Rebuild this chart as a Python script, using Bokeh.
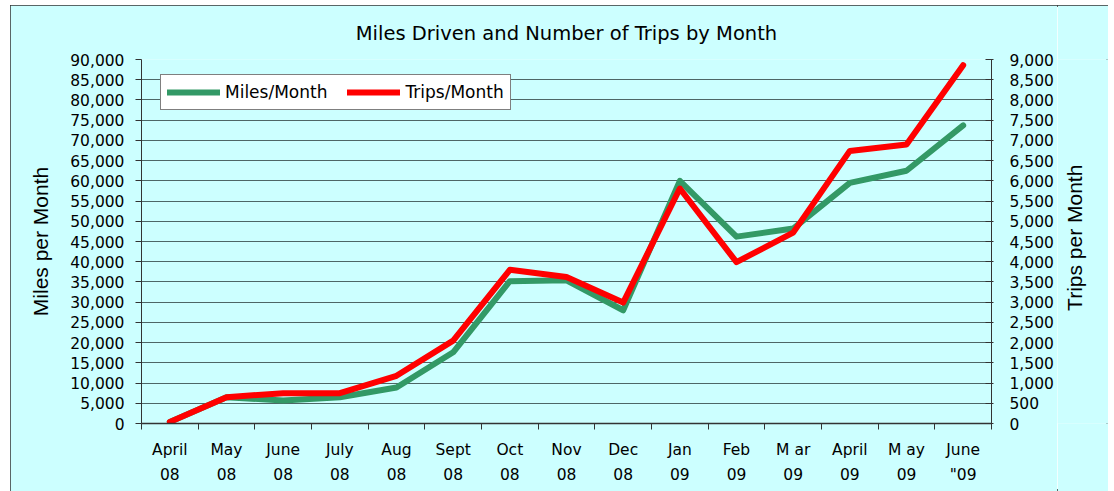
import math
from bokeh.plotting import figure
from bokeh.layouts import row
from bokeh.models import (Range1d, LinearAxis, FixedTicker, ColumnDataSource,
                          NumeralTickFormatter, Legend, LegendItem)
from bokeh.core.properties import value
from bokeh.embed import file_html
from bokeh.resources import INLINE

# ---- data ----
months = ["April", "May", "June", "July", "Aug", "Sept", "Oct", "Nov", "Dec",
          "Jan", "Feb", "M ar", "April", "M ay", "June"]
years = ["08", "08", "08", "08", "08", "08", "08", "08", "08",
         "09", "09", "09", "09", "09", '"09']
miles = [400, 6500, 5700, 6500, 8900, 17600, 35200, 35400, 28000,
         60000, 46200, 48200, 59500, 62500, 73700]
trips = [40, 650, 750, 750, 1180, 2050, 3800, 3620, 2990,
         5810, 3990, 4720, 6740, 6900, 8860]
miles_ticks = list(range(0, 90001, 5000))
trips_ticks = list(range(0, 9001, 500))

cat_labels = [f"{m}\n{y}" for m, y in zip(months, years)]
n = len(cat_labels)
pos = [i + 0.5 for i in range(n)]          # category centres on the x scale
src = ColumnDataSource(dict(x=pos, miles=miles, trips=trips, label=cat_labels))

BG = "#CCFFFF"
TICK_FONT = "DejaVu Sans"
FRAME_W, FRAME_H = 850, 364
TOP, BOTTOM, LEFT, RIGHT = 54, 68, 131, 66
TOTAL_W = 1098
H = TOP + FRAME_H + BOTTOM

p = figure(x_range=Range1d(0, n), y_range=Range1d(0, 90000),
           x_axis_type=None, frame_width=FRAME_W, frame_height=FRAME_H,
           min_border_left=LEFT, min_border_right=RIGHT, min_border_top=TOP,
           min_border_bottom=BOTTOM, output_backend="svg", toolbar_location=None,
           background_fill_color=BG, border_fill_color=BG,
           title="Miles Driven and Number of Trips by Month")
p.outline_line_color = None

p.title.align = "center"
p.title.text_font = TICK_FONT
p.title.text_font_size = "19.5px"
p.title.text_font_style = "normal"
p.title.text_color = "black"
p.title.standoff = 29

# left axis
yt = FixedTicker(ticks=miles_ticks)
yax = p.yaxis[0]
yax.ticker = yt
yax.formatter = NumeralTickFormatter(format="0,0")
yax.axis_label = "Miles per Month"
yax.axis_label_text_font = "Liberation Sans"
yax.axis_label_text_font_size = "21px"
yax.axis_label_text_font_style = "normal"
yax.axis_label_text_color = "black"
yax.axis_label_standoff = 15
yax.major_label_text_font = TICK_FONT
yax.major_label_text_font_size = "15.5px"
yax.major_label_text_color = "black"
yax.major_label_standoff = 11
yax.major_tick_out = 6
yax.major_tick_in = 0
yax.minor_tick_out = 0
yax.minor_tick_in = 0
yax.axis_line_color = "#333333"
yax.major_tick_line_color = "#333333"
p.ygrid.ticker = yt
p.ygrid.grid_line_color = "#4d6666"

# right axis
p.extra_y_ranges = {"trips": Range1d(0, 9000)}
rax = LinearAxis(y_range_name="trips", ticker=FixedTicker(ticks=trips_ticks),
                 formatter=NumeralTickFormatter(format="0,0"))
rax.major_label_text_font = TICK_FONT
rax.major_label_text_font_size = "15.5px"
rax.major_label_text_color = "black"
rax.major_label_standoff = 16
rax.major_tick_out = 2
rax.major_tick_in = 6
rax.minor_tick_out = 0
rax.minor_tick_in = 0
rax.axis_line_color = "#333333"
rax.major_tick_line_color = "#333333"
p.add_layout(rax, "right")

# bottom category labels, tick marks between categories
xax = LinearAxis(ticker=FixedTicker(ticks=pos, minor_ticks=list(range(n + 1))),
                 major_label_overrides={c: lab for c, lab in zip(pos, cat_labels)})
xax.major_tick_out = 0
xax.major_tick_in = 0
xax.minor_tick_out = 6
xax.minor_tick_in = 0
xax.minor_tick_line_color = "#333333"
xax.axis_line_color = "#333333"
xax.axis_line_width = 1.5
xax.major_label_text_font = TICK_FONT
xax.major_label_text_font_size = "15.5px"
xax.major_label_text_color = "black"
xax.major_label_text_line_height = 1.4
xax.major_label_standoff = 11
p.add_layout(xax, "below")

# lines
g = p.line("x", "miles", source=src, line_color="#339966", line_width=6,
           line_cap="round", line_join="round")
r = p.line("x", "trips", source=src, y_range_name="trips", line_color="#FF0000",
           line_width=6, line_cap="round", line_join="round")

legend = Legend(items=[LegendItem(label="Miles/Month", renderers=[g]),
                       LegendItem(label="Trips/Month", renderers=[r])],
                location=(19, 313), orientation="horizontal")
legend.label_text_font = TICK_FONT
legend.label_text_font_size = "17px"
legend.label_text_color = "black"
legend.glyph_width = 53
legend.glyph_height = 22
legend.label_height = 22
legend.label_standoff = 5
legend.spacing = 20
legend.padding = 6
legend.margin = 0
legend.border_line_color = "black"
legend.border_line_width = 1
legend.background_fill_color = "white"
legend.background_fill_alpha = 1
p.add_layout(legend)

# narrow side panel carrying the right axis title (reads bottom-to-top)
side_w = TOTAL_W - (LEFT + FRAME_W + RIGHT)
side = figure(width=side_w, height=H, x_range=Range1d(0, side_w),
              y_range=Range1d(0, H), x_axis_type=None, y_axis_type=None,
              min_border=0, output_backend="svg", toolbar_location=None,
              background_fill_color=BG, border_fill_color=BG)
side.outline_line_color = None
side.grid.visible = False
side.text(x=[17], y=[BOTTOM + FRAME_H / 2 - 2], text=["Trips per Month"],
          angle=math.pi / 2, text_align="center", text_baseline="middle",
          text_font=value("Liberation Sans"), text_font_size="21px",
          text_color="black")

layout = row(p, side, spacing=0,
             styles={"margin-left": "10px", "margin-top": "5px",
                     "outline": "2px solid #333333", "outline-offset": "-2px"})

open("out.html", "w").write(file_html(layout, INLINE))
